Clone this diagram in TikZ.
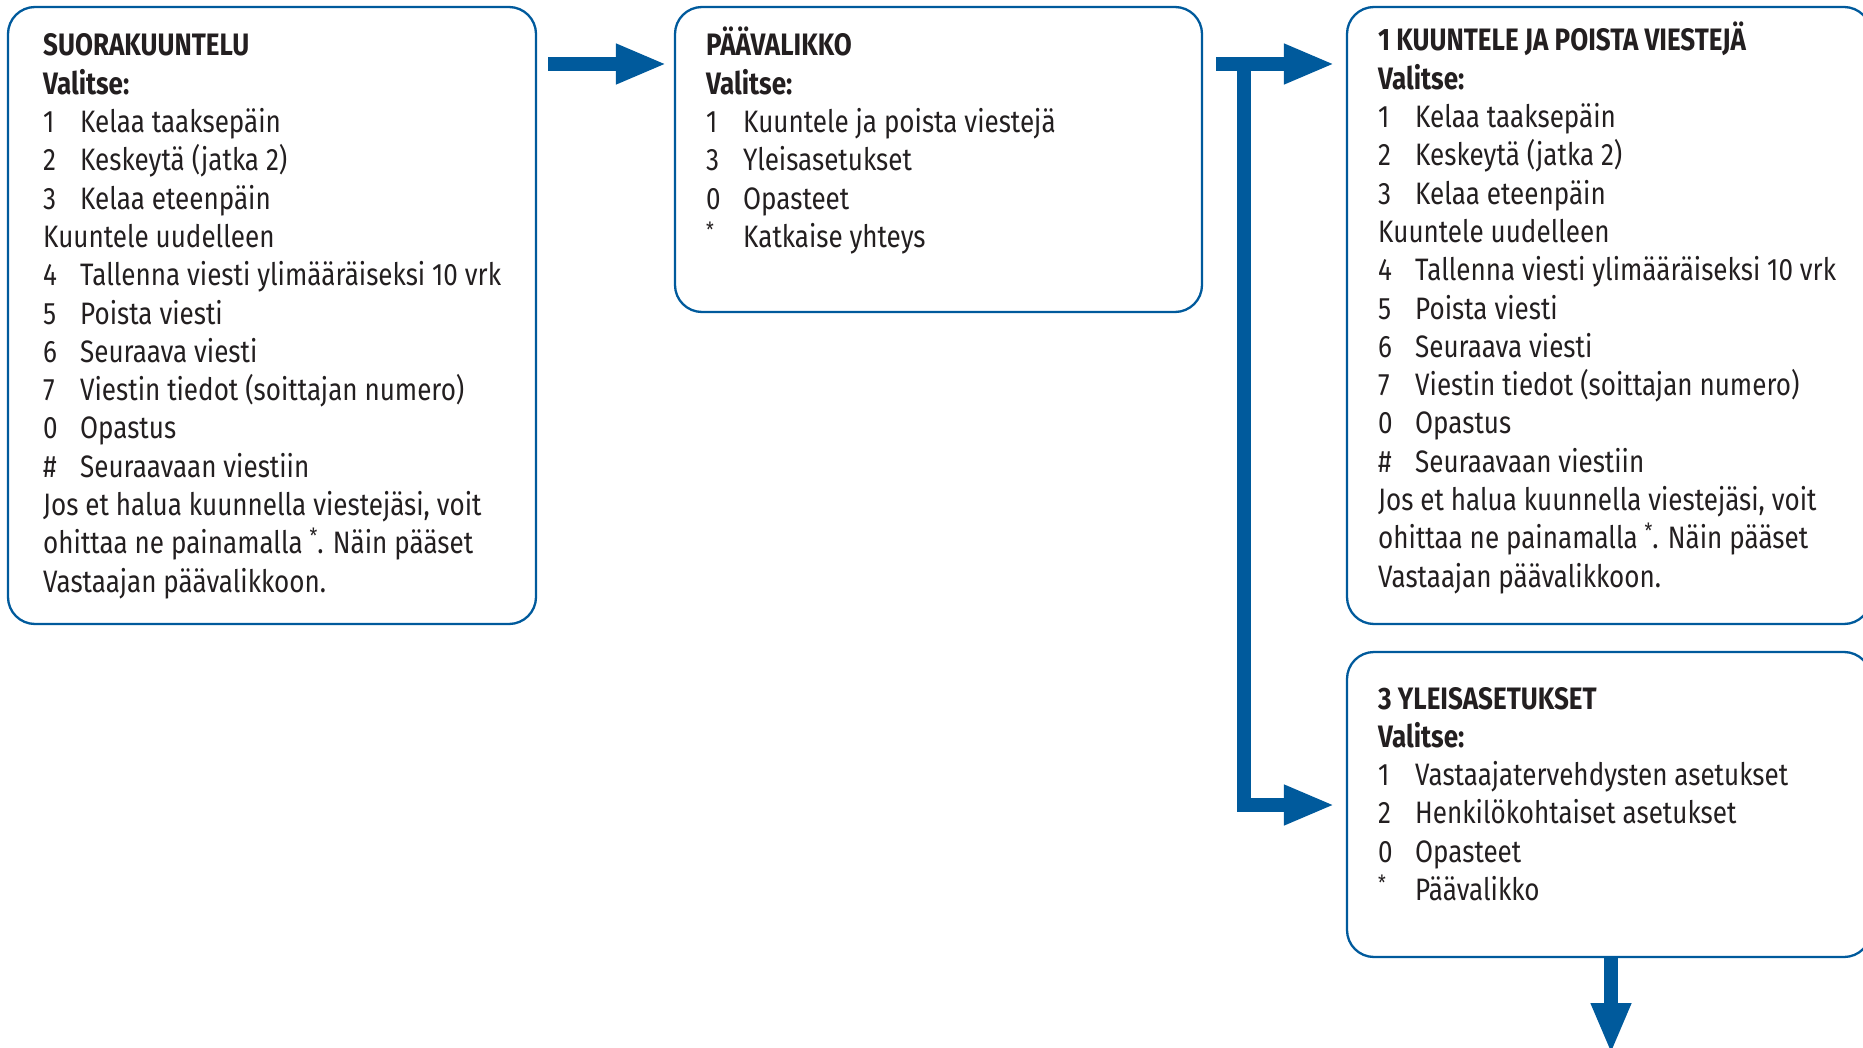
\documentclass[tikz,border=0pt]{standalone}
\usepackage{fontspec}
\setmainfont{Fira Sans}[FakeStretch=0.84]
\usetikzlibrary{arrows.meta}
\definecolor{menublue}{RGB}{0,90,156}
\definecolor{txt}{RGB}{35,31,32}
\newcommand\itm[2]{\makebox[37pt][l]{#1}#2}
\newcommand\mystar{\raisebox{10pt}{\fontsize{21}{38.3}\selectfont *}}
\newcommand\boxtext[1]{\parbox[t]{480pt}{\fontsize{31}{38.3}\selectfont\raggedright #1}}
\begin{document}
\begin{tikzpicture}[x=1pt,y=-1pt,
  menubox/.style={draw=menublue,line width=2.3pt,rounded corners=27pt,inner sep=0pt,fill=none},
  menutext/.style={anchor=base west,inner sep=0pt,text=txt},
  bigarrow/.style={draw=menublue,line width=14pt,line join=miter,
    -{Triangle[length=51pt,width=37pt]}}]
\useasboundingbox (0,0) rectangle (1863,1048);
% boxes
\node[menubox,minimum width=528pt,minimum height=617pt] (b1) at (272,315.5) {};
\node[menubox,minimum width=527pt,minimum height=305pt] (b2) at (938.5,159.5) {};
\node[menubox,minimum width=524pt,minimum height=617pt] (b3) at (1609,315.5) {};
\node[menubox,minimum width=524pt,minimum height=305pt] (b4) at (1609,804.5) {};
% texts
\node[menutext] (t1) at (43,56) {\boxtext{%
\textbf{SUORAKUUNTELU}\\
\textbf{Valitse:}\\
\itm{1}{Kelaa taaksepäin}\\
\itm{2}{Keskeytä (jatka 2)}\\
\itm{3}{Kelaa eteenpäin}\\
Kuuntele uudelleen\\
\itm{4}{Tallenna viesti ylimääräiseksi 10 vrk}\\
\itm{5}{Poista viesti}\\
\itm{6}{Seuraava viesti}\\
\itm{7}{Viestin tiedot (soittajan numero)}\\
\itm{0}{Opastus}\\
\itm{\#}{Seuraavaan viestiin}\\
Jos et halua kuunnella viestejäsi, voit\\
ohittaa ne painamalla \mystar. Näin pääset\\
Vastaajan päävalikkoon.}};
\node[menutext] (t2) at (706,56) {\boxtext{%
\textbf{PÄÄVALIKKO}\\
\textbf{Valitse:}\\
\itm{1}{Kuuntele ja poista viestejä}\\
\itm{3}{Yleisasetukset}\\
\itm{0}{Opasteet}\\
\itm{\mystar}{Katkaise yhteys}}};
\node[menutext] (t3) at (1378,51) {\boxtext{%
\textbf{1 KUUNTELE JA POISTA VIESTEJÄ}\\
\textbf{Valitse:}\\
\itm{1}{Kelaa taaksepäin}\\
\itm{2}{Keskeytä (jatka 2)}\\
\itm{3}{Kelaa eteenpäin}\\
Kuuntele uudelleen\\
\itm{4}{Tallenna viesti ylimääräiseksi 10 vrk}\\
\itm{5}{Poista viesti}\\
\itm{6}{Seuraava viesti}\\
\itm{7}{Viestin tiedot (soittajan numero)}\\
\itm{0}{Opastus}\\
\itm{\#}{Seuraavaan viestiin}\\
Jos et halua kuunnella viestejäsi, voit\\
ohittaa ne painamalla \mystar. Näin pääset\\
Vastaajan päävalikkoon.}};
\node[menutext] (t4) at (1378,709) {\boxtext{%
\textbf{3 YLEISASETUKSET}\\
\textbf{Valitse:}\\
\itm{1}{Vastaajatervehdysten asetukset}\\
\itm{2}{Henkilökohtaiset asetukset}\\
\itm{0}{Opasteet}\\
\itm{\mystar}{Päävalikko}}};
% connectors
\coordinate (r1) at (0,64);
\coordinate (r2) at (0,805);
\coordinate (j) at (1244,64);
\coordinate (down) at (1611,1054);
\draw[bigarrow,shorten <=11pt,shorten >=7pt] (b1.east|-r1) -- (b2.west|-r1);
\draw[bigarrow,shorten <=13pt,shorten >=11pt] (b2.east|-r1) -- (b3.west|-r1);
\draw[bigarrow,shorten >=11pt] (j) |- (b4.west|-r2);
\draw[bigarrow] (b4.south-|down) -- (down);
\end{tikzpicture}
\end{document}
